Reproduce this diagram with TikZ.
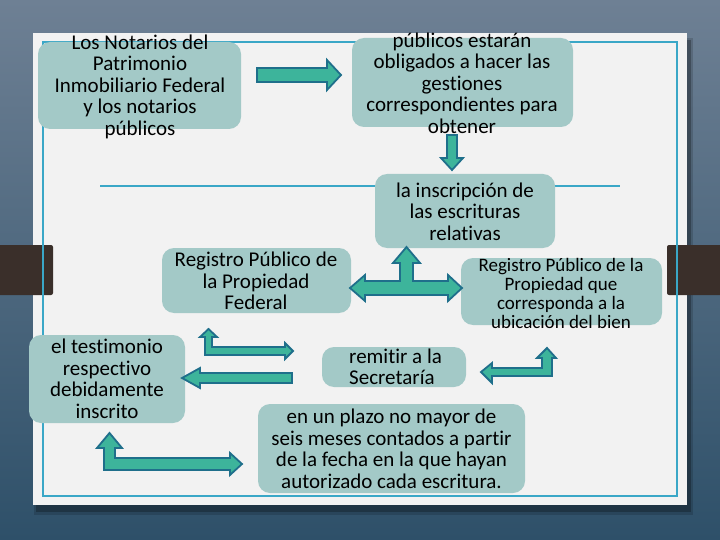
\documentclass[tikz,border=0pt]{standalone}
\usepackage{fontspec}
\setmainfont{Carlito}[Ligatures=NoCommon]
\definecolor{bgtop}{HTML}{6E8094}
\definecolor{bgbot}{HTML}{2E5069}
\definecolor{paper}{HTML}{F2F2F2}
\definecolor{frameblue}{HTML}{3AA7C7}
\definecolor{boxfill}{HTML}{A3C9C7}
\definecolor{arrfill}{HTML}{3DB49B}
\definecolor{arrline}{HTML}{1F6F8B}
\definecolor{tab}{HTML}{3A2F2A}
\begin{document}
\begin{tikzpicture}[x=1pt,y=-1pt,
  boxbg/.style={fill=boxfill,rounded corners=12pt},
  txt/.style={align=center,inner sep=0pt,font=\fontsize{21}{21.5}\selectfont},
  smalltxt/.style={align=center,inner sep=0pt,font=\fontsize{19}{19}\selectfont},
  blockarrow/.style={fill=arrfill,draw=arrline,line width=1.8pt,line join=miter}]
\useasboundingbox (0,0) rectangle (720,540);
% background
\shade[top color=bgtop,bottom color=bgbot] (0,0) rectangle (720,540);
% paper shadow
\fill[black,opacity=0.25] (36,40) rectangle (691,512);
\fill[black,opacity=0.15] (34,38) rectangle (693,515);
% paper
\fill[paper] (33,33) rectangle (687,505);
% tabs
\fill[tab,rounded corners=2pt] (-5,245) rectangle (53,295);
\fill[tab,rounded corners=2pt] (667,245) rectangle (725,295);
% frame
\draw[frameblue,line width=1.6pt] (43,42) rectangle (677,496);
\draw[frameblue,line width=1.6pt] (100,186) -- (620,186);
% boxes
\fill[boxbg] (38,42) rectangle (241,129);
\node[txt] (notarios) at (140,86.5) {Los Notarios del\\Patrimonio\\Inmobiliario Federal\\y los notarios\\públicos};
\fill[boxbg] (352,38) rectangle (573,127);
\node[txt] (publicos) at (462,83) {públicos estarán\\obligados a hacer las\\gestiones\\correspondientes para\\obtener};
\fill[boxbg] (375,174) rectangle (555,248);
\node[txt] (inscripcion) at (465,211.5) {la inscripción de\\las escrituras\\relativas};
\fill[boxbg] (162,248) rectangle (351,313);
\node[txt] (federal) at (256,281) {Registro Público de\\la Propiedad\\Federal};
\fill[boxbg] (461,258) rectangle (662,325);
\node[smalltxt] (ubicacion) at (561,293) {Registro Público de la\\Propiedad que\\corresponda a la\\ubicación del bien};
\fill[boxbg] (29,335) rectangle (185,423);
\node[txt] (testimonio) at (107,379) {el testimonio\\respectivo\\debidamente\\inscrito};
\fill[boxbg] (322,347) rectangle (466,387);
\node[txt,align=left,anchor=west] (remitir) at (349,367) {remitir a la\\Secretaría};
\fill[boxbg] (258,404) rectangle (525,493);
\node[txt] (plazo) at (391.5,449) {en un plazo no mayor de\\seis meses contados a partir\\de la fecha en la que hayan\\autorizado cada escritura.};
% arrows
\draw[blockarrow] (257,68) -- (327,68) -- (327,60) -- (341,75) -- (327,90) -- (327,82) -- (257,82) -- cycle;
\draw[blockarrow] (447,135) -- (457,135) -- (457,158) -- (463,158) -- (452,170) -- (441,158) -- (447,158) -- cycle;
\draw[blockarrow] (350,288) -- (365,275) -- (365,281) -- (400,281) -- (400,263) -- (393,263) -- (406.5,247) -- (420,263) -- (413,263) -- (413,281) -- (448,281) -- (448,275) -- (462,288) -- (448,301) -- (448,295) -- (365,295) -- (365,301) -- cycle;
\draw[blockarrow] (205,355) -- (205,337) -- (200,337) -- (208.5,329) -- (217,337) -- (212,337) -- (212,347) -- (285,347) -- (285,343) -- (293,351) -- (285,359) -- (285,355) -- cycle;
\draw[blockarrow] (292,373) -- (292,383) -- (200,383) -- (200,388) -- (182,378) -- (200,368) -- (200,373) -- cycle;
\draw[blockarrow] (104,470) -- (104,448) -- (97,448) -- (109.5,433) -- (122,448) -- (115,448) -- (115,458) -- (230,458) -- (230,453) -- (242,464) -- (230,475) -- (230,470) -- cycle;
\draw[blockarrow] (552,376) -- (492,376) -- (492,383) -- (481,372) -- (492,363) -- (492,368) -- (542,368) -- (542,358) -- (537,358) -- (547,348) -- (556,358) -- (552,358) -- cycle;
\end{tikzpicture}
\end{document}
